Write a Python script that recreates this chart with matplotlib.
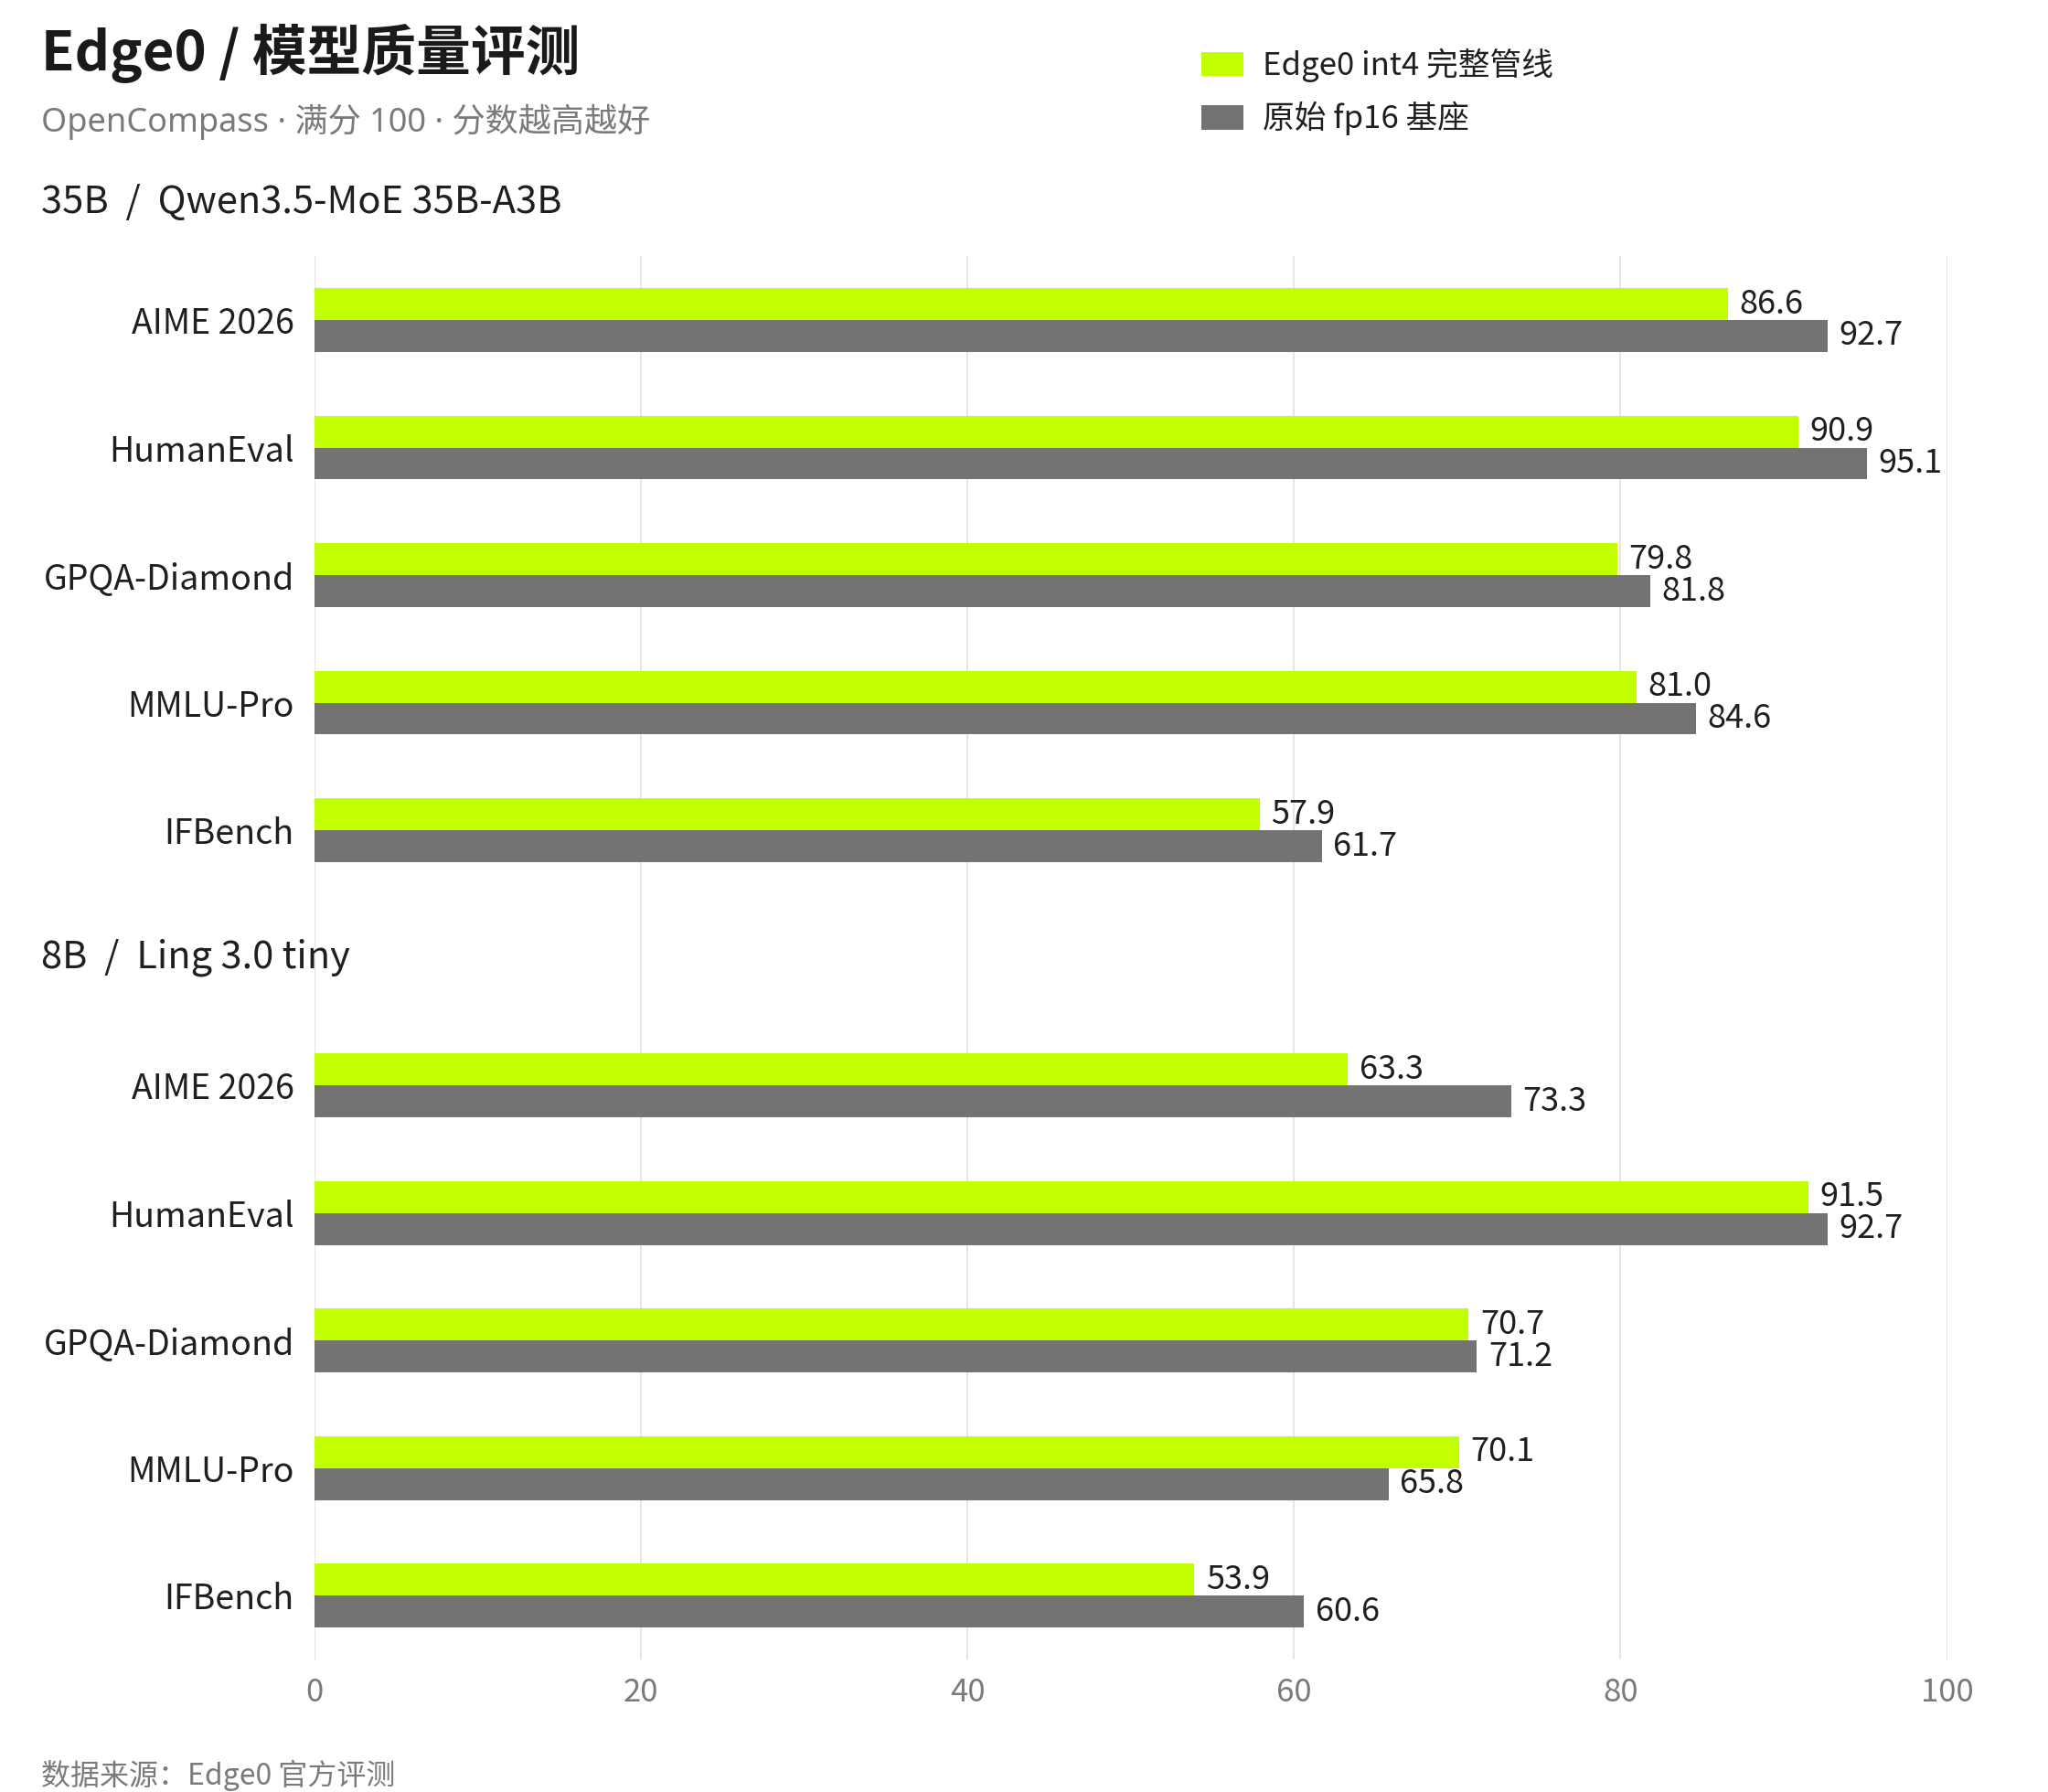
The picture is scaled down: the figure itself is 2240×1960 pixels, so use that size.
import numpy as np
import matplotlib
matplotlib.use("Agg")
import matplotlib.pyplot as plt
import matplotlib.transforms as mtransforms
from matplotlib.patches import Patch

plt.rcParams['font.family'] = ['Noto Sans CJK SC', 'DejaVu Sans']

# données
benchmarks = ["AIME 2026", "HumanEval", "GPQA-Diamond", "MMLU-Pro", "IFBench"]
groups = ["35B  /  Qwen3.5-MoE 35B-A3B", "8B  /  Ling 3.0 tiny"]
int4_35b = [86.6, 90.9, 79.8, 81.0, 57.9]
fp16_35b = [92.7, 95.1, 81.8, 84.6, 61.7]
int4_8b = [63.3, 91.5, 70.7, 70.1, 53.9]
fp16_8b = [73.3, 92.7, 71.2, 65.8, 60.6]
xticks = [0, 20, 40, 60, 80, 100]

GREEN = "#c2ff00"
GREY = "#737373"
TXT = "#1f1f1f"
MUTED = "#7a7a7a"

fig = plt.figure(figsize=(11.2, 9.8), dpi=200)
ax = fig.add_axes([0.1536, 0.074, 0.7971, 0.783])

n = len(benchmarks)
pos1 = np.arange(n)
pos2 = np.arange(n) + n + 1
pos = np.concatenate([pos1, pos2])
int4 = int4_35b + int4_8b
fp16 = fp16_35b + fp16_8b
h = 0.25

ax.barh(pos - h / 2, int4, height=h, color=GREEN, zorder=3)
ax.barh(pos + h / 2, fp16, height=h, color=GREY, zorder=3)

for p, v in zip(pos, int4):
    ax.annotate(f"{v:.1f}", (v, p - h / 2), xytext=(4.5, 0), textcoords="offset points",
                ha="left", va="center", fontsize=13, color=TXT)
for p, v in zip(pos, fp16):
    ax.annotate(f"{v:.1f}", (v, p + h / 2), xytext=(4.5, 0), textcoords="offset points",
                ha="left", va="center", fontsize=13, color=TXT)

ax.set_xlim(0, 100)
ax.set_ylim(2 * n + 0.5, -0.5)
ax.set_yticks(pos)
ax.set_yticklabels(benchmarks * 2, fontsize=13.5, color=TXT)
ax.set_xticks(xticks)
ax.set_xticklabels([str(t) for t in xticks], fontsize=12.5, color=MUTED)
ax.tick_params(axis="y", length=0, pad=8)
ax.tick_params(axis="x", length=0, pad=7)
for s in ax.spines.values():
    s.set_visible(False)
ax.grid(axis="x", color="#e6e6e6", linewidth=0.7, zorder=0)
ax.set_axisbelow(True)

# titres des groupes
trans = mtransforms.blended_transform_factory(fig.transFigure, ax.transData)
ax.text(0.0201, -0.92, groups[0], transform=trans, fontsize=15, color=TXT,
        ha="left", va="center", clip_on=False)
ax.text(0.0201, n, groups[1], transform=trans, fontsize=15, color=TXT,
        ha="left", va="center", clip_on=False)

fig.text(0.0201, 0.970, "Edge0 / 模型质量评测", fontsize=21.5, fontweight="bold",
         color="#1a1a1a", ha="left", va="center")
fig.text(0.0201, 0.932, "OpenCompass · 满分 100 · 分数越高越好", fontsize=13,
         family=["Noto Sans", "Noto Sans CJK SC"],
         color=MUTED, ha="left", va="center")
fig.text(0.0201, 0.009, "数据来源：Edge0 官方评测", fontsize=11.5,
         color=MUTED, ha="left", va="center")

handles = [Patch(facecolor=GREEN, label="Edge0 int4 完整管线"),
           Patch(facecolor=GREY, label="原始 fp16 基座")]
fig.legend(handles=handles, loc="upper left", bbox_to_anchor=(0.5865, 0.973),
           frameon=False, fontsize=12.5, borderpad=0, borderaxespad=0,
           handlelength=1.34, handleheight=0.8, handletextpad=0.6, labelspacing=0.6,
           labelcolor=TXT)

fig.savefig("out.png", dpi=200, facecolor="white")
